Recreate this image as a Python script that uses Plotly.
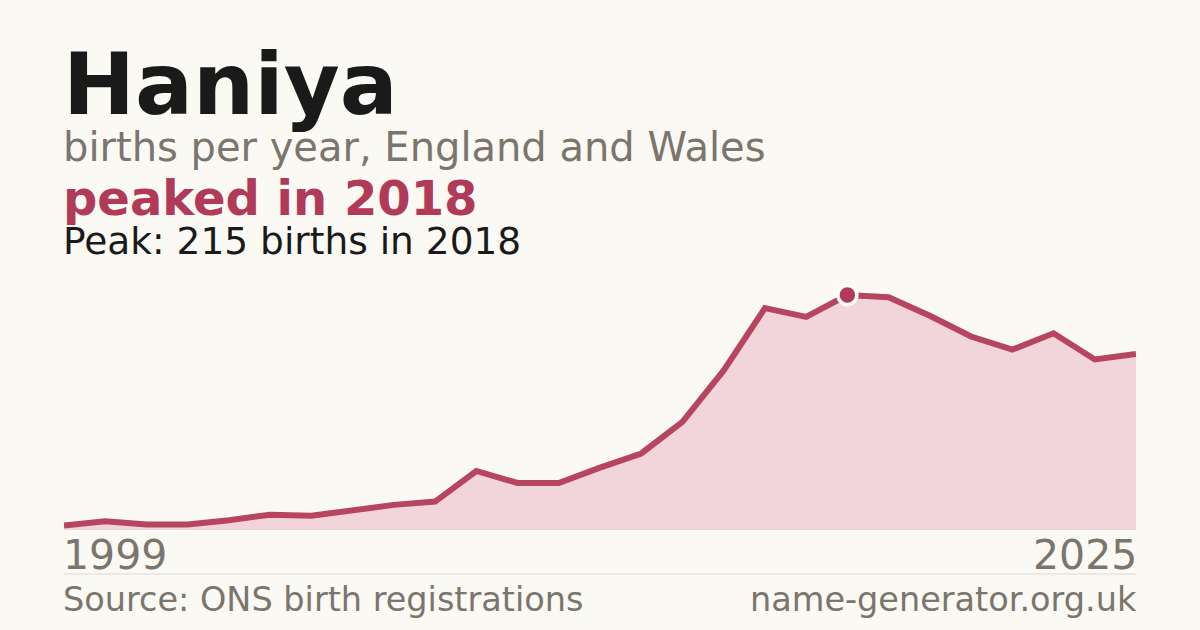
import plotly.graph_objects as go

# births per year for the name
years = list(range(1999, 2026))
births = [4, 8, 5, 5, 9, 14, 13, 18, 23, 26, 54, 43, 43, 57, 70, 99,
          146, 203, 195, 215, 213, 196, 177, 165, 180, 156, 161]

peak_year = 2018
peak_value = 215

name = "Haniya"
subtitle = "births per year, England and Wales"
headline = "peaked in 2018"
peak_note = "Peak: 215 births in 2018"
source = "Source: ONS birth registrations"
site = "name-generator.org.uk"

BG = "#faf9f4"
ACCENT = "#b03a58"
LINE = "#b8455f"
FILL = "#f2d5da"
GREY = "#7a756d"
DARK = "#1a1a1a"
FONT = "DejaVu Sans"

fig = go.Figure()
fig.add_trace(go.Scatter(
    x=years, y=births, mode="lines", fill="tozeroy",
    fillcolor=FILL, line=dict(color=LINE, width=6),
    hoverinfo="skip",
))
fig.add_trace(go.Scatter(
    x=[peak_year], y=[peak_value], mode="markers",
    marker=dict(size=19, color=ACCENT, line=dict(color="white", width=3.5)),
    cliponaxis=False, hoverinfo="skip",
))

# plot area runs from y=260 to y=530 px; paper y = (530 - px) / 270
def py(px):
    return (530 - px) / 270

PAD = 3 / 1072  # annotation box padding, pulled back so text sits on the edge

def note(text, x, y, size, color, xanchor="left", bold=False):
    fig.add_annotation(
        text=text, xref="paper", yref="paper",
        x=x - PAD if xanchor == "left" else x + PAD, y=y,
        xanchor=xanchor, yanchor="middle", showarrow=False,
        font=dict(family=FONT, size=size, color=color,
                  weight="bold" if bold else "normal"),
    )

note(name, 0, py(84), 86, DARK, bold=True)
note(subtitle, 0, py(147), 40, GREY)
note(headline, 0, py(198), 48, ACCENT, bold=True)
note(peak_note, 0, py(241), 37.5, DARK)
note(str(years[0]), 0, py(555), 41, GREY)
note(str(years[-1]), 1, py(555), 41, GREY, xanchor="right")
note(source, 0, py(599), 33.5, GREY)
note(site, 1, py(599), 33.5, GREY, xanchor="right")

fig.add_shape(type="line", xref="paper", yref="paper",
              x0=0, x1=1, y0=py(574), y1=py(574),
              line=dict(color="#dcd9d2", width=1))

fig.update_layout(
    width=1200, height=630,
    margin=dict(l=64, r=64, t=260, b=100),
    paper_bgcolor=BG, plot_bgcolor=BG,
    showlegend=False,
    xaxis=dict(range=[1999, 2025], visible=False, fixedrange=True),
    yaxis=dict(range=[0, 247], visible=False, fixedrange=True),
)

fig.write_html("out.html", config={"displayModeBar": False},
               post_script="document.body.style.margin='0';")
